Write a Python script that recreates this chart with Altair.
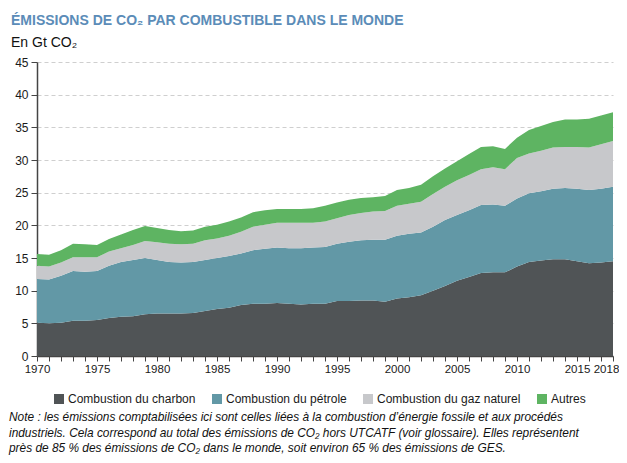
import altair as alt
import pandas as pd

years = list(range(1970, 2019))

charbon = [5.1, 5.0, 5.1, 5.4, 5.4, 5.5, 5.8, 6.0, 6.1, 6.4,
           6.5, 6.5, 6.5, 6.6, 6.9, 7.2, 7.4, 7.8, 8.0, 8.0,
           8.1, 8.0, 7.9, 8.0, 8.0, 8.4, 8.4, 8.5, 8.5, 8.3,
           8.8, 9.0, 9.3, 10.0, 10.7, 11.5, 12.1, 12.7, 12.8, 12.8,
           13.7, 14.4, 14.6, 14.8, 14.8, 14.5, 14.2, 14.3, 14.5]
petrole = [6.7, 6.7, 7.2, 7.6, 7.5, 7.5, 8.0, 8.4, 8.6, 8.6,
           8.2, 7.9, 7.8, 7.8, 7.8, 7.8, 7.9, 7.9, 8.2, 8.4,
           8.5, 8.5, 8.6, 8.6, 8.7, 8.8, 9.1, 9.2, 9.3, 9.5,
           9.6, 9.7, 9.6, 9.8, 10.1, 10.1, 10.2, 10.4, 10.4, 10.2,
           10.4, 10.5, 10.6, 10.8, 10.9, 11.1, 11.2, 11.3, 11.4]
gaz = [2.0, 2.0, 2.0, 2.1, 2.2, 2.1, 2.2, 2.1, 2.3, 2.6,
       2.7, 2.8, 2.8, 2.8, 3.0, 3.0, 3.1, 3.3, 3.6, 3.7,
       3.8, 3.9, 3.9, 3.8, 3.9, 3.9, 4.1, 4.2, 4.3, 4.4,
       4.6, 4.6, 4.7, 5.0, 5.1, 5.3, 5.4, 5.5, 5.7, 5.6,
       6.2, 6.1, 6.2, 6.3, 6.3, 6.4, 6.5, 6.8, 7.0]
autres = [1.8, 1.8, 1.9, 2.1, 2.0, 1.9, 1.9, 2.1, 2.3, 2.3,
          2.2, 2.1, 2.0, 2.0, 2.1, 2.1, 2.2, 2.2, 2.2, 2.2,
          2.1, 2.1, 2.1, 2.2, 2.4, 2.4, 2.3, 2.3, 2.2, 2.3,
          2.4, 2.4, 2.6, 2.7, 2.8, 2.9, 3.2, 3.4, 3.2, 3.1,
          3.1, 3.6, 3.8, 3.9, 4.2, 4.2, 4.4, 4.4, 4.4]

series_names = ["Combustion du charbon", "Combustion du pétrole",
                "Combustion du gaz naturel", "Autres"]
series_colors = ["#505456", "#6298a6", "#c7c8cb", "#5eb462"]
x_label_years = [1970, 1975, 1980, 1985, 1990, 1995, 2000, 2005, 2010, 2015, 2018]

title_text = "ÉMISSIONS DE CO₂ PAR COMBUSTIBLE DANS LE MONDE"
subtitle_text = "En Gt CO₂"
note_text = ("Note : les émissions comptabilisées ici sont celles liées à la combustion d’énergie fossile et aux procédés\n"
             "industriels. Cela correspond au total des émissions de CO₂ hors UTCATF (voir glossaire). Elles représentent\n"
             "près de 85 % des émissions de CO₂ dans le monde, soit environ 65 % des émissions de GES.")

rows = []
for i, y in enumerate(years):
    for k, (name, vals) in enumerate(zip(series_names, [charbon, petrole, gaz, autres])):
        rows.append({"annee": y, "serie": name, "ordre": k, "valeur": vals[i]})
df = pd.DataFrame(rows)

FONT = "Liberation Sans"

label_expr = "indexof([" + ",".join(str(v) for v in x_label_years) + "], datum.value) >= 0 ? format(datum.value, 'd') : ''"

area = alt.Chart(df).mark_area(interpolate="linear").encode(
    x=alt.X("annee:Q",
            scale=alt.Scale(domain=[1970, 2018], nice=False, zero=False),
            axis=alt.Axis(values=years, labelExpr=label_expr, title=None, grid=False,
                          labelOverlap=False, labelFontSize=11.5, labelFont=FONT,
                          labelColor="#1a1a1a", tickSize=5, tickColor="#444",
                          domainColor="#444", domainWidth=1.5, labelPadding=2,
                          labelFlush=False,
                          labelOffset={"condition": {"test": "datum.value == 2018", "value": -7},
                                       "value": 0})),
    y=alt.Y("valeur:Q", stack="zero",
            scale=alt.Scale(domain=[0, 45], nice=False),
            axis=alt.Axis(values=list(range(0, 50, 5)), title=None, grid=True,
                          gridDash=[4, 3], gridColor="#cfcfcf", gridWidth=1,
                          labelFontSize=12, labelFont=FONT, labelColor="#1a1a1a",
                          tickSize=6, tickColor="#444", domainColor="#444",
                          domainWidth=1.5, labelPadding=3)),
    color=alt.Color("serie:N",
                    scale=alt.Scale(domain=series_names, range=series_colors),
                    sort=series_names,
                    legend=alt.Legend(title=None, orient="none", direction="horizontal",
                                      legendX=16, legendY=331, symbolType="square",
                                      symbolSize=100, symbolStrokeWidth=0,
                                      labelFontSize=12, labelFont=FONT,
                                      labelColor="#1a1a1a", columnPadding=15,
                                      labelOffset=3)),
    order=alt.Order("ordre:Q", sort="ascending"),
)

title = alt.Chart(pd.DataFrame({"t": [title_text]})).mark_text(
    align="left", baseline="middle", font=FONT, fontSize=14, fontWeight="bold",
    color="#5b8cb8"
).encode(text="t:N", x=alt.value(-26), y=alt.value(-41))

subtitle = alt.Chart(pd.DataFrame({"t": [subtitle_text]})).mark_text(
    align="left", baseline="middle", font=FONT, fontSize=14, color="#111"
).encode(text="t:N", x=alt.value(-26), y=alt.value(-19))

note = alt.Chart(pd.DataFrame({"t": [note_text]})).mark_text(
    align="left", baseline="top", font=FONT, fontSize=11.9, fontStyle="italic",
    color="#111", lineBreak="\n", lineHeight=15.5
).encode(text="t:N", x=alt.value(-28), y=alt.value(350))

chart = alt.layer(area, title, subtitle, note).properties(
    width=576, height=294,
    autosize="none",
    padding={"left": 29, "top": 54, "right": 6, "bottom": 99},
).configure_view(stroke=None)

chart.save("out.html", embed_options={"renderer": "svg", "actions": False})
